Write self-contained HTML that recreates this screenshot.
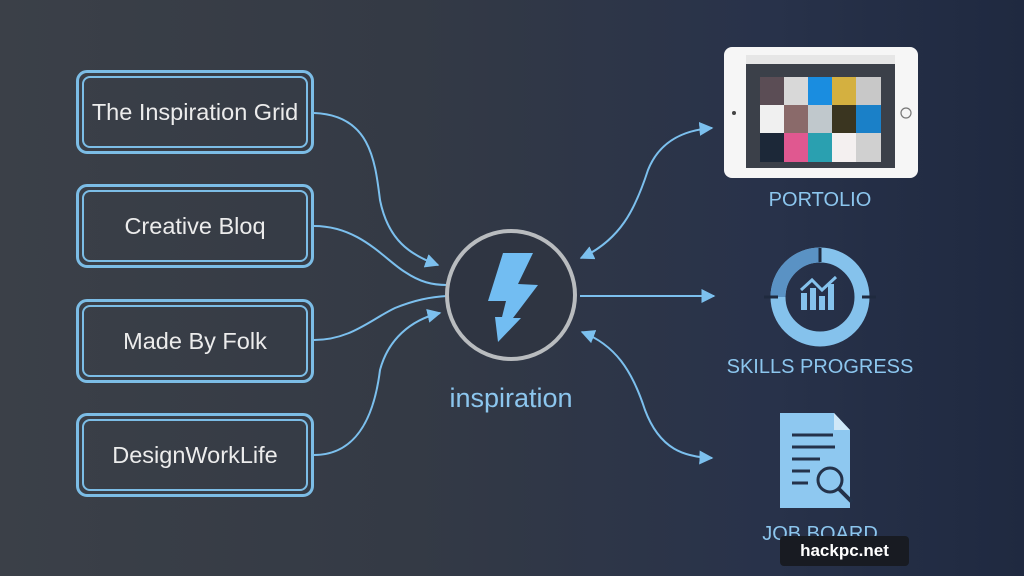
<!DOCTYPE html>
<html><head><style>
body{margin:0;width:1024px;height:576px;overflow:hidden;background:linear-gradient(90deg,#3b4048 0%,#343a45 40%,#28324a 75%,#1f2940 100%);font-family:"Liberation Sans",sans-serif;position:relative}
.box{position:absolute;left:76px;width:232px;height:78px;border:3px solid #7cbde6;border-radius:11px}
.box div{position:absolute;left:3px;top:3px;right:3px;bottom:3px;border:2px solid #7cbde6;border-radius:8px;display:flex;align-items:center;justify-content:center;color:#ececec;font-size:23.5px}
.lbl{position:absolute;color:#8cc6ee;font-size:20px;text-align:center;width:240px}
</style></head><body>
<div class="box" style="top:70px"><div>The Inspiration Grid</div></div>
<div class="box" style="top:184px"><div>Creative Bloq</div></div>
<div class="box" style="top:299px"><div>Made By Folk</div></div>
<div class="box" style="top:413px"><div>DesignWorkLife</div></div>
<svg width="1024" height="576" style="position:absolute;left:0;top:0">
<defs><marker id="a" viewBox="0 0 10 10" refX="9" refY="5" markerWidth="7" markerHeight="7" orient="auto-start-reverse"><path d="M0,0L10,5L0,10z" fill="#7cc0ee"/></marker></defs>
<g fill="none" stroke="#7cc0ee" stroke-width="2">
<path d="M314,113 C370,115 375,160 380,200 C388,240 410,255 438,265" marker-end="url(#a)"/>
<path d="M314,226 C360,226 385,260 405,272 C420,282 432,285 447,285"/>
<path d="M314,340 C350,340 370,320 395,308 C415,300 430,297 447,296"/>
<path d="M314,455 C360,455 375,410 380,370 C388,340 410,320 440,313" marker-end="url(#a)"/>
<path d="M581,258 C620,240 635,210 648,170 C660,140 685,130 712,128" marker-start="url(#a)" marker-end="url(#a)"/>
<path d="M580,296 L714,296" marker-end="url(#a)"/>
<path d="M582,332 C615,345 632,370 645,410 C660,450 685,457 712,458" marker-start="url(#a)" marker-end="url(#a)"/>
</g>
<circle cx="511" cy="295" r="64" fill="#2f3542" stroke="#b9bcbf" stroke-width="4"/>
<polygon points="503,253 533,253 518,284 538,285 513,318 521,318 498,342 495,317 502,317 506,301 488,301" fill="#72bdf2"/>
<rect x="724" y="47" width="194" height="131" rx="8" fill="#f6f6f6"/>
<rect x="746" y="55" width="149" height="113" fill="#3b4049"/>
<rect x="746" y="55" width="149" height="9" fill="#e6e6e6"/>
<circle cx="734" cy="113" r="2" fill="#444"/>
<circle cx="906" cy="113" r="5" fill="none" stroke="#777" stroke-width="1.2"/>
<g>
<rect x="760" y="77" width="24" height="28" fill="#5b4d55"/><rect x="784" y="77" width="24" height="28" fill="#d8d8d8"/><rect x="808" y="77" width="24" height="28" fill="#1a8de0"/><rect x="832" y="77" width="24" height="28" fill="#d4b040"/><rect x="856" y="77" width="25" height="28" fill="#c8c8c8"/>
<rect x="760" y="105" width="24" height="28" fill="#f0f0f0"/><rect x="784" y="105" width="24" height="28" fill="#8a6a6a"/><rect x="808" y="105" width="24" height="28" fill="#c0c8cc"/><rect x="832" y="105" width="24" height="28" fill="#3a3520"/><rect x="856" y="105" width="25" height="28" fill="#1a80c8"/>
<rect x="760" y="133" width="24" height="29" fill="#1c2838"/><rect x="784" y="133" width="24" height="29" fill="#e05890"/><rect x="808" y="133" width="24" height="29" fill="#2aa0b0"/><rect x="832" y="133" width="24" height="29" fill="#f4f0f0"/><rect x="856" y="133" width="25" height="29" fill="#d0d0d0"/>
</g>
<circle cx="820" cy="297" r="42" fill="none" stroke="#85c2ec" stroke-width="15"/>
<path d="M820,255 A42,42 0 0 0 778,297" fill="none" stroke="#5a92c4" stroke-width="15"/>
<g stroke="#1f2a3e" stroke-width="3"><line x1="820" y1="248" x2="820" y2="262"/><line x1="862" y1="297" x2="876" y2="297"/><line x1="764" y1="297" x2="778" y2="297"/></g>
<g fill="#85c2ec"><rect x="801" y="293" width="6" height="17"/><rect x="810" y="288" width="6" height="22"/><rect x="819" y="296" width="6" height="14"/><rect x="828" y="284" width="6" height="26"/></g>
<path d="M801,290 L812,280 L822,290 L836,277" fill="none" stroke="#85c2ec" stroke-width="3"/>
<path d="M780,413 L834,413 L850,430 L850,508 L780,508 Z" fill="#8ec8f0"/>
<path d="M834,413 L834,430 L850,430Z" fill="#cfe8f8"/>
<g stroke="#24324a" stroke-width="3"><line x1="792" y1="435" x2="833" y2="435"/><line x1="792" y1="447" x2="835" y2="447"/><line x1="792" y1="459" x2="820" y2="459"/><line x1="792" y1="471" x2="810" y2="471"/><line x1="792" y1="483" x2="808" y2="483"/></g>
<circle cx="830" cy="480" r="12" fill="#8ec8f0" stroke="#24324a" stroke-width="3"/>
<line x1="839" y1="489" x2="852" y2="502" stroke="#24324a" stroke-width="4"/>
</svg>
<div class="lbl" style="left:391px;top:383px;font-size:27px">inspiration</div>
<div class="lbl" style="left:700px;top:189px">PORTOLIO</div>
<div class="lbl" style="left:700px;top:356px">SKILLS PROGRESS</div>
<div class="lbl" style="left:700px;top:523px">JOB BOARD</div>
<div style="position:absolute;left:780px;top:536px;width:129px;height:30px;background:#181b22;border-radius:4px;color:#fff;font-size:17px;font-weight:bold;display:flex;align-items:center;justify-content:center">hackpc.net</div>
</body></html>
